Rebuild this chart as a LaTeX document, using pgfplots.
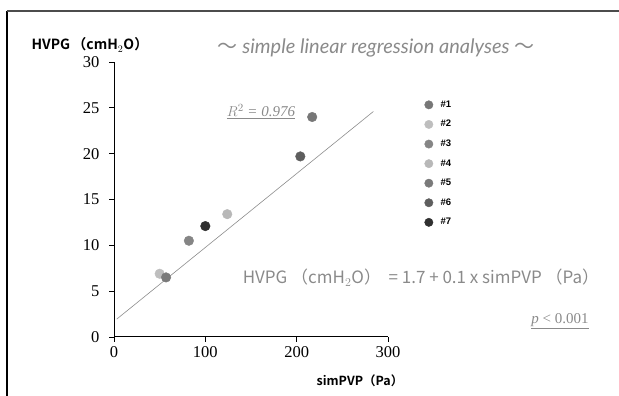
\documentclass[border=0pt]{standalone}
\usepackage{pgfplots}
\pgfplotsset{compat=1.18}
\usepackage{fontspec}
\setmainfont{Liberation Serif}
\newfontfamily\cjk{Noto Sans CJK JP}
\newfontfamily\cjkb{Noto Sans CJK JP}[BoldFont={* Bold}]
\newfontfamily\lato{Lato}
\newfontfamily\lsans{Liberation Sans}
\definecolor{cA}{HTML}{777777}
\definecolor{cB}{HTML}{BEBEBE}
\definecolor{cC}{HTML}{858585}
\definecolor{cD}{HTML}{B8B8B8}
\definecolor{cE}{HTML}{7A7A7A}
\definecolor{cF}{HTML}{5E5E5E}
\definecolor{cG}{HTML}{303030}
\definecolor{txtgray}{HTML}{8A8A8A}
\begin{document}
\begin{tikzpicture}[x=1pt,y=1pt]
\path[use as bounding box] (0,0) rectangle (619,396);
% frame
\draw[line width=1.2pt, black] (7,0) -- (7,385);
\draw[line width=1.2pt, black!70] (7,385) -- (619,385);
\begin{axis}[
  at={(114pt,59pt)}, anchor=south west,
  scale only axis, width=274pt, height=275pt,
  xmin=0, xmax=300, ymin=0, ymax=30,
  axis x line=bottom, axis y line=left,
  axis line style={-, line width=1pt},
  tick align=outside, major tick length=5pt,
  tick style={line width=0.8pt, black},
  xtick={0,100,200,300}, ytick={0,5,10,15,20,25,30},
  /pgf/number format/assume math mode=true,
  tick label style={font=\fontsize{16.5}{16.5}\selectfont},
  yticklabel style={xshift=-6pt},
  xticklabel style={yshift=-1pt},
  clip=false,
  legend cell align=left,
  legend style={at={(rel axis cs:1.133,0.865)}, anchor=north west, draw=none, fill=none,
    font=\fontsize{9.5}{9.5}\selectfont\lsans\bfseries, row sep=8.5pt,
    inner sep=0pt, nodes={inner sep=1.5pt}},
  legend image code/.code={\draw[#1, mark size=4.2pt] plot coordinates {(3pt,0pt)};},
]
\addplot[draw=black!45, line width=0.6pt, forget plot] coordinates {(3,1.95) (284,24.6)};
\addplot[draw=none, mark=*, mark size=4.8pt, color=cA] coordinates {(217,24.0)};
\addlegendentry{\hspace{6pt}\#1}
\addplot[draw=none, mark=*, mark size=4.8pt, color=cB] coordinates {(50,6.9)};
\addlegendentry{\hspace{6pt}\#2}
\addplot[draw=none, mark=*, mark size=4.8pt, color=cC] coordinates {(82,10.5)};
\addlegendentry{\hspace{6pt}\#3}
\addplot[draw=none, mark=*, mark size=4.8pt, color=cD] coordinates {(124,13.4)};
\addlegendentry{\hspace{6pt}\#4}
\addplot[draw=none, mark=*, mark size=4.8pt, color=cE] coordinates {(57,6.5)};
\addlegendentry{\hspace{6pt}\#5}
\addplot[draw=none, mark=*, mark size=4.8pt, color=cF] coordinates {(204,19.7)};
\addlegendentry{\hspace{6pt}\#6}
\addplot[draw=none, mark=*, mark size=4.8pt, color=cG] coordinates {(100,12.1)};
\addlegendentry{\hspace{6pt}\#7}
\end{axis}
% texts (pixel y converted: 396 - y)
\node[anchor=west, font=\fontsize{14}{14}\selectfont\cjkb\bfseries] at (28,351) {HVPG\,（cmH$_2$O）};
\node[font=\fontsize{20}{20}\selectfont\lato\itshape, text=txtgray] at (376,348) {{\cjk 〜} simple linear regression analyses {\cjk 〜}};
\node[font=\fontsize{15}{15}\selectfont\itshape, text=txtgray] at (261,283) {\underline{\smash{$R^2$} = 0.976}};
\node[font=\fontsize{17}{17}\selectfont\cjk, text=txtgray] at (421,118) {HVPG\ （cmH$_2$O）\ \ =\ 1.7\ +\ 0.1\ x\ simPVP\ （Pa）};
\node[font=\fontsize{15}{15}\selectfont, text=txtgray] at (560,75) {\underline{\textit{p} < 0.001}};
\node[font=\fontsize{12.5}{12.5}\selectfont\cjkb\bfseries] at (360,15) {simPVP（Pa）};
\end{tikzpicture}
\end{document}
